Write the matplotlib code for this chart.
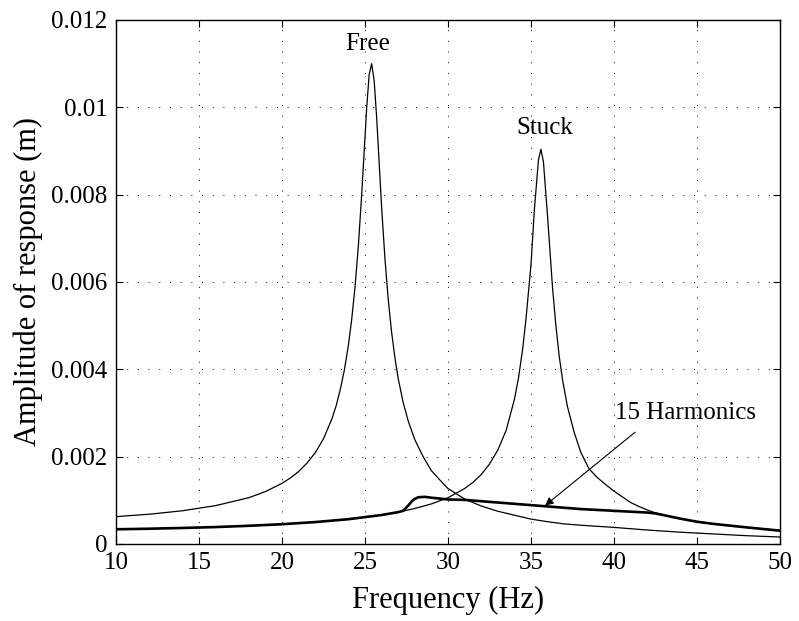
import numpy as np
import matplotlib
matplotlib.use('Agg')
import matplotlib.pyplot as plt

# values (Hz, m)
free_f = [10, 12, 14, 16, 18, 19, 20, 20.5, 21, 21.5, 22, 22.5, 23, 23.25, 23.5, 23.75,
          24, 24.2, 24.4, 24.6, 24.8, 25.1, 25.25, 25.4, 25.55, 25.7, 26.0, 26.2, 26.4,
          26.6, 26.8, 27.0, 27.3, 27.6, 28, 28.5, 29, 29.5, 30, 30.5, 31, 32,
          33, 34, 35, 36, 37, 38, 40, 42, 44, 46, 48, 50]
free_a = [0.000627, 0.000682, 0.000761, 0.000879, 0.00106, 0.0012, 0.00139, 0.00151,
          0.00166, 0.00185, 0.00209, 0.00241, 0.00286, 0.00315, 0.00352, 0.00397,
          0.00455, 0.00515, 0.00589, 0.00683, 0.0080, 0.00998, 0.01075, 0.0110,
          0.01062, 0.00978, 0.00772, 0.00654, 0.0056, 0.00486, 0.00427, 0.00379,
          0.00324, 0.00282, 0.00239, 0.0020, 0.00168, 0.00147, 0.00127, 0.00115,
          0.00103, 0.00087, 0.00075, 0.00066, 0.00057, 0.00051, 0.00046, 0.00043,
          0.00038, 0.00032, 0.00027, 0.00023, 0.00019, 0.00016]

stuck_f = [10, 12, 14, 16, 18, 20, 22, 24, 26, 27, 28, 29, 30, 31, 31.5, 32, 32.5, 33,
           33.5, 34, 34.25, 34.5, 34.7, 35.0, 35.2, 35.45, 35.6, 35.75, 36.0, 36.3,
           36.5, 36.7, 36.9, 37.2, 37.6, 38, 38.5, 39, 39.5, 40, 41, 41.5, 42, 42.5,
           43, 44, 45, 46, 48, 50]
stuck_a = [0.000337, 0.00035, 0.000367, 0.000388, 0.000417, 0.000453, 0.000502, 0.000568,
           0.000664, 0.00073, 0.000813, 0.000918, 0.00106, 0.00127, 0.00141, 0.00159,
           0.00183, 0.00215, 0.0026, 0.00331, 0.00381, 0.00447, 0.00516, 0.00640,
           0.00764, 0.0088, 0.00904, 0.00875, 0.00749, 0.00586, 0.0050, 0.0043,
           0.00376, 0.00314, 0.00256, 0.0021, 0.00172, 0.00152, 0.00136, 0.00121,
           0.00095, 0.00086, 0.00078, 0.00071, 0.00066, 0.00058, 0.00051, 0.00046,
           0.00038, 0.00031]

harm_f = [10, 12, 14, 16, 18, 20, 22, 24, 26, 27, 27.3, 27.6, 27.9, 28.2, 28.6, 29,
          29.5, 30, 31, 32, 33, 34, 35, 36, 37, 38, 39, 40, 41, 42, 42.5, 43, 44, 45,
          46, 48, 50]
harm_a = [0.000337, 0.00035, 0.000367, 0.000388, 0.000417, 0.000453, 0.000502, 0.000568,
          0.000664, 0.00073, 0.00076, 0.00088, 0.00101, 0.00107, 0.00108, 0.00106,
          0.00104, 0.00102, 0.00101, 0.00098, 0.00095, 0.00092, 0.00089, 0.00086,
          0.00083, 0.0008, 0.00078, 0.00076, 0.00074, 0.00072, 0.00070, 0.00066,
          0.00058, 0.00051, 0.00046, 0.00038, 0.000305]

yticks = [0, 0.002, 0.004, 0.006, 0.008, 0.010, 0.012]
ytick_labels = ['0', '0.002', '0.004', '0.006', '0.008', '0.01', '0.012']

plt.rcParams['font.family'] = ['Liberation Serif', 'DejaVu Serif']

fig = plt.figure(figsize=(7.99, 6.21), dpi=100)
ax = fig.add_axes([0.1452, 0.124, 0.831, 0.8438])

ax.plot(free_f, free_a, color='black', lw=0.9)
ax.plot(stuck_f, stuck_a, color='black', lw=0.9)
ax.plot(harm_f, harm_a, color='black', lw=1.9)

ax.set_xlim(10, 50)
ax.set_ylim(0, 0.012)
ax.set_xticks(np.arange(10, 51, 5))
ax.set_yticks(yticks)
ax.set_yticklabels(ytick_labels)
ax.tick_params(direction='in', top=True, right=True, length=5, width=0.8,
               labelsize=18, pad=6)
ax.grid(True, color='black', lw=0.7, linestyle=(0, (1, 10)))
for s in ax.spines.values():
    s.set_linewidth(1.0)

ax.set_xlabel('Frequency (Hz)', fontsize=22, labelpad=8)
ax.set_ylabel('Amplitude of response (m)', fontsize=22, labelpad=6)

ax.text(25.18, 0.01145, 'Free', fontsize=18, ha='center', va='center')
ax.text(35.84, 0.00953, 'Stuck', fontsize=18, ha='center', va='center')
ax.text(44.3, 0.0030, '15 Harmonics', fontsize=18, ha='center', va='center')
ax.annotate('', xy=(35.85, 0.00088), xytext=(41.27, 0.00256),
            arrowprops=dict(arrowstyle='-|>', color='black', lw=0.8,
                            mutation_scale=12, shrinkA=0, shrinkB=0))

fig.savefig('out.png', dpi=100)
